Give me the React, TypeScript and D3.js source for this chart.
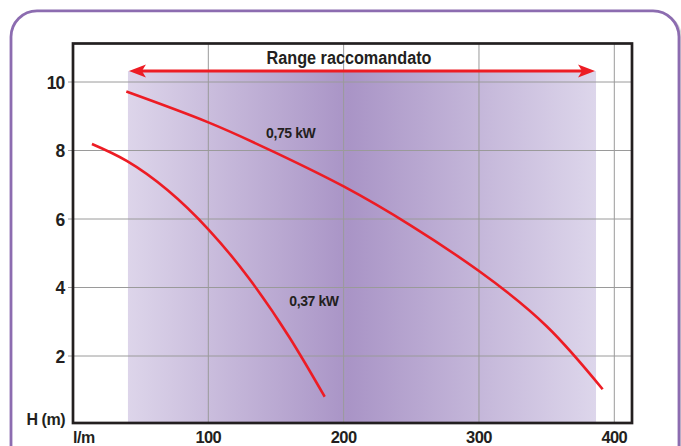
import React from "react";
import * as d3 from "d3";

const xTicks = [100, 200, 300, 400];
const yTicks = [2, 4, 6, 8, 10];
const rangeLabel = "Range raccomandato";
const rangeFlow = [40.6, 386.5];

const flow075 = [39.4, 100, 150, 200, 250, 300, 350, 391.4];
const head075 = [9.72, 8.82, 7.93, 6.95, 5.8, 4.48, 2.87, 1.03];
const label075 = "0,75 kW";

const flow037 = [14, 40, 70, 100, 130, 160, 186];
const head037 = [8.19, 7.69, 6.84, 5.7, 4.27, 2.54, 0.81];
const label037 = "0,37 kW";

const W = 681;
const H = 446;

export default function App() {
  const x = d3.scaleLinear().domain([0, 400]).range([73, 614.3]);
  const y = d3.scaleLinear().domain([0, 10]).range([424.5, 82]);
  const frame = { l: 73, r: 632, t: 43.5, b: 423 };
  const line = d3
    .line<[number, number]>()
    .x((d) => x(d[0]))
    .y((d) => y(d[1]))
    .curve(d3.curveNatural);
  const c075 = flow075.map((f, i) => [f, head075[i]] as [number, number]);
  const c037 = flow037.map((f, i) => [f, head037[i]] as [number, number]);
  const arrowY = 71;
  const x0 = x(rangeFlow[0]);
  const x1 = x(rangeFlow[1]);
  const font = "'Liberation Sans', Arial, Helvetica, sans-serif";
  const red = "#ed1c24";
  const head = (tip: number, dir: number) => {
    const L = 17;
    const hw = 6.5;
    const notch = 4;
    return `M${tip},${arrowY} L${tip + dir * L},${arrowY - hw} L${tip + dir * (L - notch)},${arrowY} L${tip + dir * L},${arrowY + hw} Z`;
  };
  return (
    <svg
      width={W}
      height={H}
      style={{ position: "absolute", left: 0, top: 0, display: "block", background: "#fff" }}
    >
      <defs>
        <linearGradient id="rg" x1="0" x2="1" y1="0" y2="0">
          <stop offset="0%" stopColor="#ddd5ea" />
          <stop offset="47%" stopColor="#a994c6" />
          <stop offset="100%" stopColor="#ddd6eb" />
        </linearGradient>
      </defs>
      <rect x={12.5} y={12.5} width={668} height={470} rx={26} fill="none" stroke="#d8d8d8" strokeWidth={3} />
      <rect x={11} y={10.8} width={668} height={470} rx={26} fill="#fff" stroke="#8c6cb0" strokeWidth={2.8} />
      <rect x={x0} y={arrowY} width={x1 - x0} height={frame.b - arrowY} fill="url(#rg)" />
      {yTicks.map((t) => (
        <line key={"h" + t} x1={frame.l - 5} x2={frame.r} y1={y(t)} y2={y(t)} stroke="#9a9a9a" strokeWidth={1} />
      ))}
      {xTicks.map((t) => (
        <line key={"v" + t} x1={x(t)} x2={x(t)} y1={frame.t} y2={frame.b} stroke="#9a9a9a" strokeWidth={1} />
      ))}
      <rect
        x={frame.l}
        y={frame.t}
        width={frame.r - frame.l}
        height={frame.b - frame.t}
        fill="none"
        stroke="#231f20"
        strokeWidth={2.7}
      />
      <line x1={x0 + 8} x2={x1 - 8} y1={arrowY} y2={arrowY} stroke={red} strokeWidth={2.8} />
      <path d={head(x0 + 1, 1)} fill={red} />
      <path d={head(x1 - 1, -1)} fill={red} />
      <text
        x={(x0 + x1) / 2 - 13}
        y={64}
        textAnchor="middle"
        fontFamily={font}
        fontWeight="bold"
        fontSize={17.5}
        textLength={165}
        lengthAdjust="spacingAndGlyphs"
        fill="#231f20"
      >
        {rangeLabel}
      </text>
      <path d={line(c075) || ""} fill="none" stroke={red} strokeWidth={2.6} />
      <path d={line(c037) || ""} fill="none" stroke={red} strokeWidth={2.6} />
      <text x={266} y={138.3} fontFamily={font} fontWeight="bold" fontSize={14} letterSpacing={-0.4} fill="#231f20">
        {label075}
      </text>
      <text x={289.3} y={306} fontFamily={font} fontWeight="bold" fontSize={14} letterSpacing={-0.4} fill="#231f20">
        {label037}
      </text>
      {yTicks.map((t) => (
        <text
          key={"yl" + t}
          x={64.5}
          y={y(t) + 6.5}
          textAnchor="end"
          fontFamily={font}
          fontWeight="bold"
          fontSize={17.5}
          letterSpacing={-0.8}
          fill="#231f20"
        >
          {t}
        </text>
      ))}
      {xTicks.map((t) => (
        <text
          key={"xl" + t}
          x={x(t)}
          y={443}
          textAnchor="middle"
          fontFamily={font}
          fontWeight="bold"
          fontSize={16.5}
          letterSpacing={-0.6}
          fill="#231f20"
        >
          {t}
        </text>
      ))}
      <text x={73} y={443} fontFamily={font} fontWeight="bold" fontSize={16} letterSpacing={-0.5} fill="#231f20">
        l/m
      </text>
      <text x={65} y={425} textAnchor="end" fontFamily={font} fontWeight="bold" fontSize={16} letterSpacing={-0.5} fill="#231f20">
        H (m)
      </text>
    </svg>
  );
}
